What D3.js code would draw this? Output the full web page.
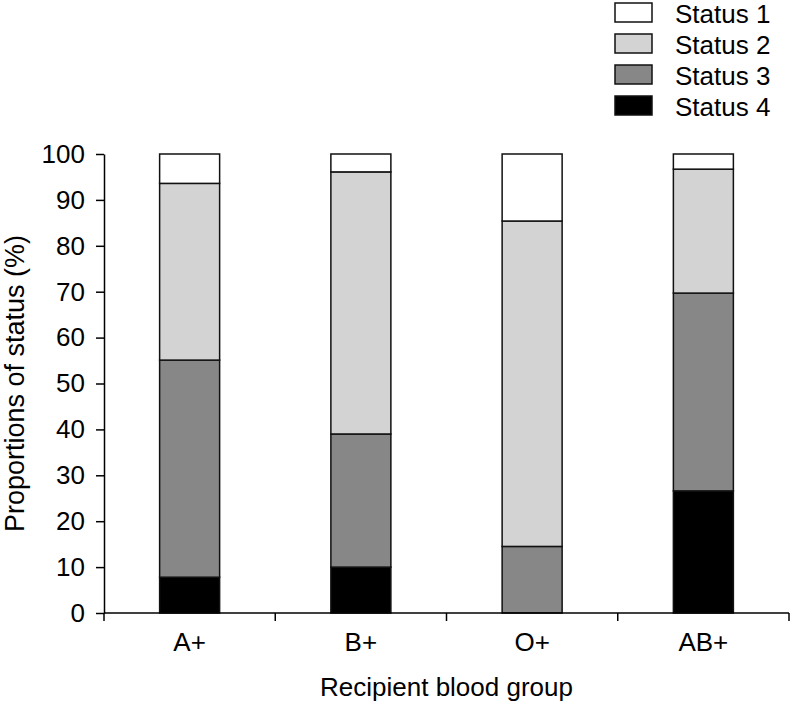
<!DOCTYPE html>
<html>
<head>
<meta charset="utf-8">
<script src="https://cdn.jsdelivr.net/npm/d3@7"></script>
<style>
  body { margin: 0; background: #fff; }
  text { font-family: "Liberation Sans", Arial, sans-serif; fill: #000; }
</style>
</head>
<body>
<div class="chart"></div>
<script>
// Data
const groups = ["A+", "B+", "O+", "AB+"];
const statuses = ["Status 1", "Status 2", "Status 3", "Status 4"];
const colors = ["#ffffff", "#d3d3d3", "#878787", "#000000"];
const status4 = [7.8, 10, 0, 26.6];
const status3 = [47.3, 29, 14.5, 43.1];
const status2 = [38.5, 57.1, 70.9, 27];
const status1 = [6.4, 3.9, 14.6, 3.3];
const yTicks = [0, 10, 20, 30, 40, 50, 60, 70, 80, 90, 100];

const W = 794, H = 704;
const margin = { top: 154, right: 5, bottom: 91, left: 104 };
const fontSize = "26px";

const svg = d3.select(".chart")
    .append("svg")
    .attr("width", W)
    .attr("height", H);

// stacked table: bottom to top is Status 4, 3, 2, 1
const table = groups.map((g, i) => ({
    group: g,
    "Status 4": status4[i],
    "Status 3": status3[i],
    "Status 2": status2[i],
    "Status 1": status1[i]
}));
const stackOrder = ["Status 4", "Status 3", "Status 2", "Status 1"];
const series = d3.stack().keys(stackOrder)(table);

const x = d3.scaleBand()
    .domain(groups)
    .range([margin.left, W - margin.right]);

const y = d3.scaleLinear()
    .domain([0, 100])
    .range([H - margin.bottom, margin.top]);

const barWidth = 60;
const color = d3.scaleOrdinal().domain(statuses).range(colors);

// bars
svg.append("g")
    .selectAll("g")
    .data(series)
    .enter()
    .append("g")
    .attr("fill", d => color(d.key))
    .selectAll("rect")
    .data(d => d)
    .enter()
    .append("rect")
    .attr("x", d => x(d.data.group) + x.bandwidth() / 2 - barWidth / 2)
    .attr("y", d => y(d[1]))
    .attr("width", barWidth)
    .attr("height", d => y(d[0]) - y(d[1]))
    .attr("stroke", d => (d[1] - d[0]) > 0 ? "#111" : "none")
    .attr("stroke-width", 1.5);

// y axis
const yAxis = svg.append("g")
    .attr("transform", `translate(${margin.left},0)`)
    .call(d3.axisLeft(y).tickValues(yTicks).tickSize(8).tickPadding(11).tickSizeOuter(0));
yAxis.selectAll("text").style("font-size", fontSize);
yAxis.selectAll("path, line").attr("stroke-width", 1.5);

// x axis: labels centred in bands, ticks at band boundaries
const xAxis = svg.append("g")
    .attr("transform", `translate(0,${H - margin.bottom})`)
    .call(d3.axisBottom(x).tickSize(0).tickPadding(20));
xAxis.select(".domain").remove();
xAxis.selectAll("text").style("font-size", fontSize);

svg.append("line")
    .attr("x1", margin.left).attr("x2", W - margin.right)
    .attr("y1", y(0)).attr("y2", y(0))
    .attr("stroke", "#000").attr("stroke-width", 1.5);

const bounds = groups.map(g => x(g)).concat([x(groups[groups.length - 1]) + x.bandwidth()]);
svg.append("g")
    .selectAll("line")
    .data(bounds)
    .enter()
    .append("line")
    .attr("x1", d => d).attr("x2", d => d)
    .attr("y1", y(0)).attr("y2", y(0) + 8)
    .attr("stroke", "#000").attr("stroke-width", 1.5);

// axis titles
svg.append("text")
    .attr("x", (margin.left + W - margin.right) / 2)
    .attr("y", 696)
    .attr("text-anchor", "middle")
    .style("font-size", fontSize)
    .text("Recipient blood group");

svg.append("text")
    .attr("transform", "rotate(-90)")
    .attr("x", -(y(0) + y(100)) / 2)
    .attr("y", 24)
    .attr("text-anchor", "middle")
    .style("font-size", "27px")
    .text("Proportions of status (%)");

// legend
const legend = svg.append("g")
    .selectAll("g")
    .data(statuses)
    .enter()
    .append("g")
    .attr("transform", (d, i) => `translate(615,${3 + i * 31})`);

legend.append("rect")
    .attr("width", 37)
    .attr("height", 19)
    .attr("fill", d => color(d))
    .attr("stroke", "#111")
    .attr("stroke-width", 1.5);

legend.append("text")
    .attr("x", 60)
    .attr("y", 11)
    .attr("dy", "0.36em")
    .style("font-size", fontSize)
    .text(d => d);
</script>
</body>
</html>
